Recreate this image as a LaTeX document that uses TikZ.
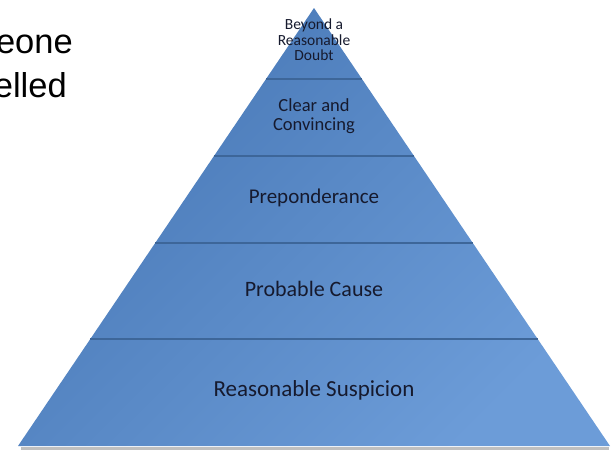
\documentclass[tikz,border=0pt]{standalone}
\usepackage{fontspec}
\newfontfamily\tierfont{Carlito}
\newfontfamily\slidefont{Liberation Sans}
\usetikzlibrary{calc}
\definecolor{tierdark}{HTML}{4878B6}
\definecolor{tierlight}{HTML}{6C9CD8}
\definecolor{tierline}{HTML}{3D6699}
\definecolor{tiertext}{HTML}{161A2E}

\begin{document}
\begin{tikzpicture}[x=1pt, y=-1pt,
    tier/.style={text=tiertext, align=center, inner sep=0},
    sep/.style={draw=tierline, line width=1.3pt},
    gloss/.style={draw=white, draw opacity=0.22, line width=1pt, yshift=1.5pt},
    slide/.style={font=\slidefont\fontsize{34.5}{44}\selectfont, inner sep=0, anchor=base east}
  ]
    \useasboundingbox (0,0) rectangle (613,450);
    % cut-off slide text
    \node[slide] (sometxt) at (73,53) {eone};
    \node[slide] (lltxt) at (67,97) {elled};
    % pyramid
    \coordinate (A) at (314,8);
    \coordinate (L) at (18,446);
    \coordinate (R) at (610,446);
    \draw[gray!50, line width=3pt] ($(L)+(3,2)$) -- ($(R)+(-1,2)$);
    \shade[top color=tierdark, bottom color=tierlight, shading angle=45] (A) -- (L) -- (R) -- cycle;
    \foreach \t [count=\i] in {0.162,0.338,0.5365,0.7557} {
      \draw[gloss] ($(A)!\t!(L)$) -- ($(A)!\t!(R)$);
      \draw[sep] ($(A)!\t!(L)$) coordinate (s\i l) -- ($(A)!\t!(R)$) coordinate (s\i r);
    }
    \node[tier, font=\tierfont\fontsize{15.5}{15.5}\selectfont] (doubt) at (314,40) {Beyond a\\Reasonable\\Doubt};
    \node[tier, font=\tierfont\fontsize{18.5}{18.5}\selectfont] (clear) at (314,116) {Clear and\\Convincing};
    \node[tier, font=\tierfont\fontsize{21}{25}\selectfont] (prep) at (314,198) {Preponderance};
    \node[tier, font=\tierfont\fontsize{22}{26}\selectfont] (prob) at (314,289) {Probable Cause};
    \node[tier, font=\tierfont\fontsize{23}{27}\selectfont] (susp) at (314,390) {Reasonable Suspicion};
\end{tikzpicture}
\end{document}
